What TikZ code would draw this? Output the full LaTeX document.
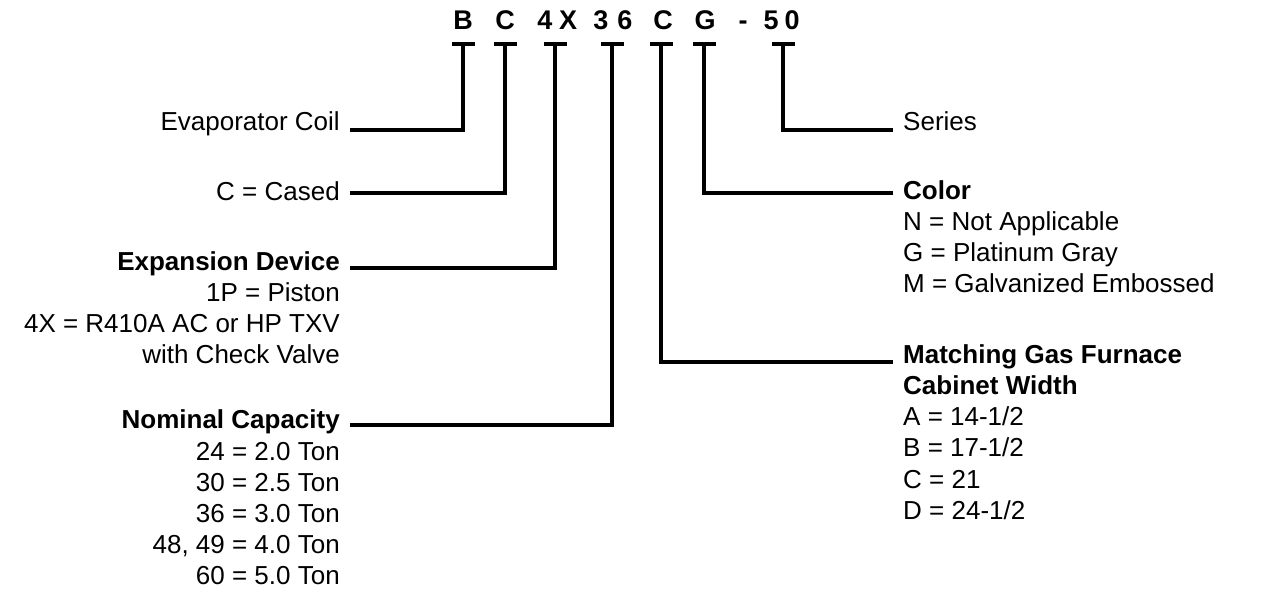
\documentclass[tikz,border=0pt]{standalone}
\usepackage{fontspec}
\setmainfont{Liberation Sans}
\begin{document}
\begin{tikzpicture}[x=1pt,y=-1pt,
  ln/.style={line width=3.6pt,line cap=butt,line join=miter},
  code/.style={font=\fontsize{27}{27}\selectfont\bfseries,anchor=base},
  lt/.style={font=\fontsize{26}{31}\selectfont,anchor=base east,inner sep=0},
  rt/.style={font=\fontsize{26}{31}\selectfont,anchor=base west,inner sep=0}]
\useasboundingbox (0,0) rectangle (1261,600);
\foreach \c/\x [count=\i] in {B/463,C/505,4/545,X/568,3/601,6/625,C/663,G/705,-/743,5/771,0/792}
  \node[code] (k\i) at (\x,29) {\c};
\foreach \x/\n in {463/b,505/c,555/x,612/n,661/m,704/g,783/s}{
  \coordinate (t\n) at (\x,44);
  \draw[ln] (\x-11.5,44) -- (\x+11.5,44);
}
\node[lt] (evap) at (340,130) {Evaporator Coil};
\node[lt] (cased) at (340,200) {C = Cased};
\node[lt] (exp1) at (340,270) {\bfseries Expansion Device};
\node[lt] (exp2) at (340,301) {1P = Piston};
\node[lt] (exp3) at (340,332) {4X = R410A AC or HP TXV};
\node[lt] (exp4) at (340,363) {with Check Valve};
\node[lt] (nom1) at (340,428) {\bfseries Nominal Capacity};
\node[lt] (nom2) at (340,460) {24 = 2.0 Ton};
\node[lt] (nom3) at (340,491) {30 = 2.5 Ton};
\node[lt] (nom4) at (340,522) {36 = 3.0 Ton};
\node[lt] (nom5) at (340,553) {48, 49 = 4.0 Ton};
\node[lt] (nom6) at (340,584) {60 = 5.0 Ton};
\node[rt] (ser) at (903,130) {Series};
\node[rt] (col1) at (903,199) {\bfseries Color};
\node[rt] (col2) at (903,230) {N = Not Applicable};
\node[rt] (col3) at (903,261) {G = Platinum Gray};
\node[rt] (col4) at (903,292) {M = Galvanized Embossed};
\node[rt] (mat1) at (903,363) {\bfseries Matching Gas Furnace};
\node[rt] (mat2) at (903,394) {\bfseries Cabinet Width};
\node[rt] (mat3) at (903,425) {A = 14-1/2};
\node[rt] (mat4) at (903,456) {B = 17-1/2};
\node[rt] (mat5) at (903,488) {C = 21};
\node[rt] (mat6) at (903,519) {D = 24-1/2};
\coordinate (eb) at (350,130); \coordinate (ec) at (350,193);
\coordinate (ex) at (350,268); \coordinate (en) at (350,425);
\coordinate (em) at (893,362); \coordinate (eg) at (893,193);
\coordinate (es) at (893,130);
\draw[ln] (tb) |- (eb);
\draw[ln] (tc) |- (ec);
\draw[ln] (tx) |- (ex);
\draw[ln] (tn) |- (en);
\draw[ln] (tm) |- (em);
\draw[ln] (tg) |- (eg);
\draw[ln] (ts) |- (es);
\end{tikzpicture}
\end{document}
